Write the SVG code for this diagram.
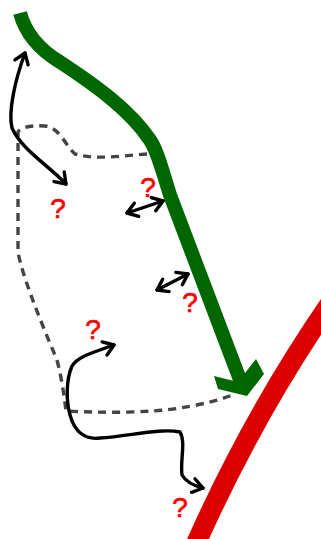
<svg xmlns="http://www.w3.org/2000/svg" width="321" height="539" viewBox="0 0 321 539">
<style>
.q{font-family:"Liberation Sans",Arial,sans-serif;font-size:28px;fill:#ff0000;stroke:#ff0000;stroke-width:0.7;text-anchor:middle}
.blk{fill:none;stroke:#000;stroke-width:3.4;stroke-linecap:round;stroke-linejoin:round}
.dash{fill:none;stroke:#444;stroke-width:3.4;stroke-dasharray:8 6}
</style>
<defs>
<marker id="chev" viewBox="-13 -9 16 18" markerWidth="16" markerHeight="18" refX="0" refY="0" orient="auto-start-reverse" markerUnits="userSpaceOnUse">
<path d="M-10,-7 L0,0 L-10,7" fill="none" stroke="#000" stroke-width="3.4" stroke-linecap="round" stroke-linejoin="round"/>
</marker>
</defs>
<g id="red-line">
<path d="M338,292 Q255,410 194,548" fill="none" stroke="#dd0000" stroke-width="20"/>
</g>
<g id="region">
<path class="dash" d="M147,154 C120,156 95,160 75,154 C65,145 60,128 45,126 C30,125 20,128 18,132 L18,252 C22,275 40,320 57,360 C62,380 64,395 66,411 C100,413 150,413 180,408 C205,404 220,400 235,394"/>
</g>
<g id="green-arrow">
<path d="M20,13 C26,35 40,50 60,62 C95,85 130,110 150,140 C158,152 162,170 170,195 L242,385" fill="none" stroke="#006600" stroke-width="14"/>
<polygon points="214,376 238,382 256,359 264,374 247,396 218,389" fill="#006600"/>
</g>
<g id="connectors">
<path class="blk" marker-start="url(#chev)" marker-end="url(#chev)" d="M25,53 C15,80 8,112 12,128 C22,150 48,165 66,184"/>
<path class="blk" marker-start="url(#chev)" marker-end="url(#chev)" d="M127,213 L163,201"/>
<path class="blk" marker-start="url(#chev)" marker-end="url(#chev)" d="M157,290 L188,274"/>
<path class="blk" marker-start="url(#chev)" marker-end="url(#chev)" d="M114,345 C95,352 78,356 72,366 C66,380 66,400 70,415 C75,433 86,440 100,438 C130,436 160,428 180,432 C186,442 180,460 182,475 C186,482 195,486 203,488"/>
</g>
<g id="labels">
<text class="q" x="58" y="218">?</text>
<text class="q" x="148" y="197">?</text>
<text class="q" x="190" y="312">?</text>
<text class="q" x="93" y="339">?</text>
<text class="q" x="180" y="517">?</text>
</g>
</svg>
